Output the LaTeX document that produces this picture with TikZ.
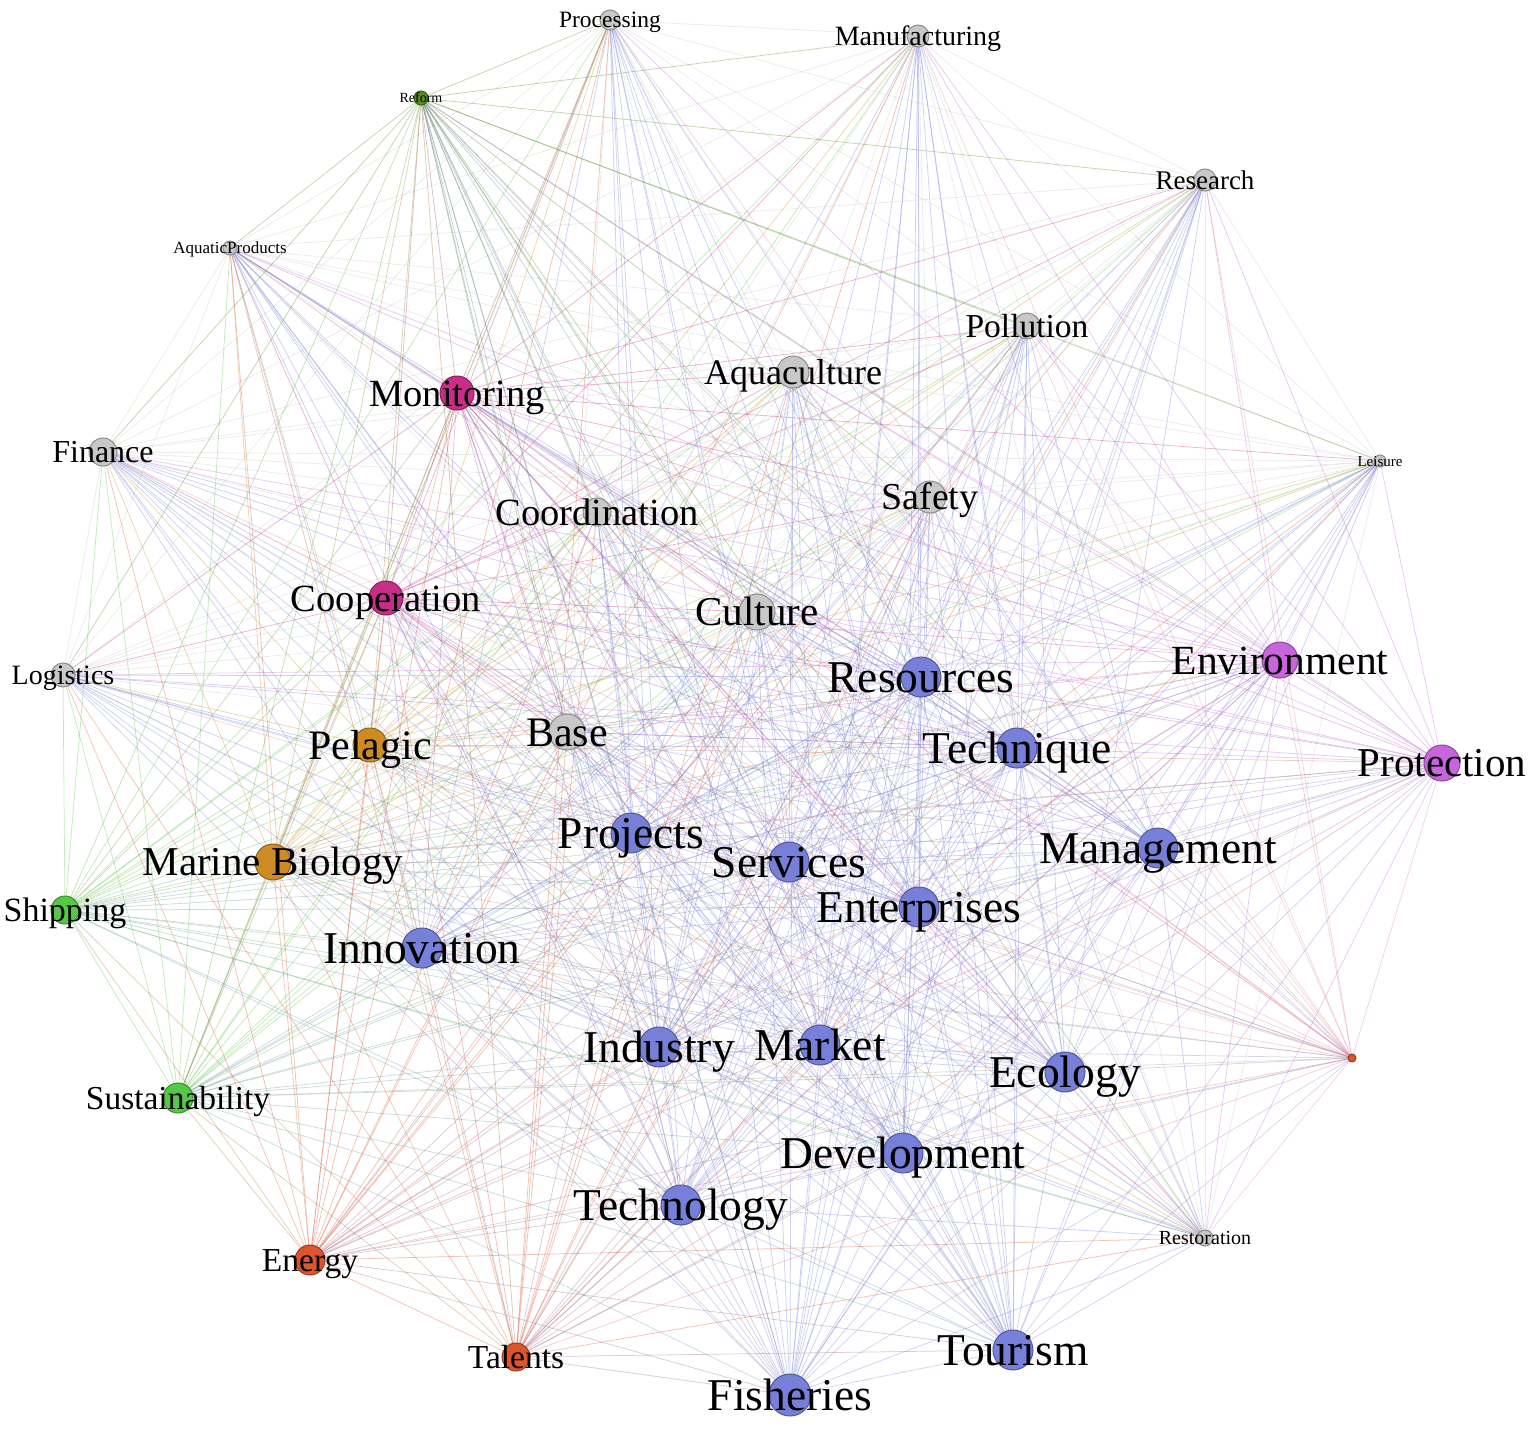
\documentclass[tikz,border=0pt]{standalone}
\usepackage{fontspec}
\setmainfont{Liberation Serif}
\pgfdeclarelayer{bg}\pgfdeclarelayer{fg}
\pgfsetlayers{bg,main,fg}
\definecolor{cgray}{RGB}{200,200,200}
\definecolor{cblue}{RGB}{118,128,216}
\definecolor{cmag}{RGB}{200,45,135}
\definecolor{cviol}{RGB}{200,100,220}
\definecolor{corange}{RGB}{205,140,35}
\definecolor{cgreen}{RGB}{85,200,70}
\definecolor{cdgreen}{RGB}{85,140,35}
\definecolor{cred}{RGB}{220,85,45}
\tikzset{
  gnode/.style={circle,inner sep=0pt,line width=1pt},
  edge/.style={line width=0.75pt,draw opacity=0.36},
  glabel/.style={inner sep=0pt,anchor=base,text=black}
}
\newcommand\gn[7]{%
  \colorlet{col#1}{#5}%
  \node[gnode,minimum size=#4*2pt,fill=#5,draw=#5!70!black] (#1) at (#2,#3) {};%
  \begin{pgfonlayer}{fg}\node[glabel,font=\fontsize{#6}{#6}\selectfont] (#1-l) at ([yshift=-#6*0.34pt]#1.center) {#7};\end{pgfonlayer}%
}
\begin{document}
\begin{tikzpicture}[x=1pt,y=-1pt]
\useasboundingbox (0,0) rectangle (1535,1430);
% gray nodes
\gn{processing}{610}{20}{10}{cgray}{23.5}{Processing}
\gn{manufacturing}{918}{36}{11}{cgray}{28}{Manufacturing}
\gn{research}{1205}{180}{11}{cgray}{27}{Research}
\gn{aquaticproducts}{230}{248}{7}{cgray}{17}{AquaticProducts}
\gn{pollution}{1027}{326}{13}{cgray}{33.5}{Pollution}
\gn{aquaculture}{793}{372}{16}{cgray}{36}{Aquaculture}
\gn{finance}{103}{452}{14}{cgray}{32}{Finance}
\gn{leisure}{1380}{461}{6}{cgray}{15}{Leisure}
\gn{safety}{930}{497}{16}{cgray}{38}{Safety}
\gn{coordination}{597}{512}{14}{cgray}{38.5}{Coordination}
\gn{culture}{757}{612}{18}{cgray}{41}{Culture}
\gn{logistics}{63}{675}{12}{cgray}{28}{Logistics}
\gn{base}{567}{732}{18}{cgray}{42}{Base}
\gn{restoration}{1205}{1238}{8}{cgray}{20}{Restoration}
% coloured communities
\gn{reform}{421}{98}{7}{cdgreen}{14}{Reform}
\gn{monitoring}{457}{393}{17}{cmag}{38.5}{Monitoring}
\gn{cooperation}{386}{598}{17}{cmag}{38.5}{Cooperation}
\gn{environment}{1280}{660}{18}{cviol}{41.5}{Environment}
\gn{protection}{1442}{763}{18}{cviol}{41}{Protection}
\gn{pelagic}{370}{745}{17}{corange}{42}{Pelagic}
\gn{marinebiology}{273}{862}{18}{corange}{41}{Marine Biology}
\gn{shipping}{65}{910}{14}{cgreen}{34}{Shipping}
\gn{sustainability}{178}{1098}{15}{cgreen}{33.5}{Sustainability}
\gn{energy}{310}{1260}{15}{cred}{33.5}{Energy}
\gn{talents}{516}{1357}{14}{cred}{33.5}{Talents}
\colorlet{colredpt}{cred!45!cmag!60!white}
\node[gnode,minimum size=8pt,fill=cred,draw=cred!70!black] (redpt) at (1352,1058) {};
\gn{resources}{921}{677}{20}{cblue}{45.5}{Resources}
\gn{technique}{1017}{748}{20}{cblue}{45.5}{Technique}
\gn{projects}{631}{833}{20}{cblue}{45.5}{Projects}
\gn{management}{1158}{848}{20}{cblue}{45.5}{Management}
\gn{services}{789}{862}{20}{cblue}{45.5}{Services}
\gn{enterprises}{919}{907}{20}{cblue}{45.5}{Enterprises}
\gn{innovation}{422}{948}{20}{cblue}{45.5}{Innovation}
\gn{industry}{659}{1047}{20}{cblue}{45.5}{Industry}
\gn{market}{820}{1045}{20}{cblue}{45.5}{Market}
\gn{ecology}{1065}{1072}{20}{cblue}{45.5}{Ecology}
\gn{development}{903}{1153}{20}{cblue}{45.5}{Development}
\gn{technology}{681}{1205}{20}{cblue}{45.5}{Technology}
\gn{tourism}{1013}{1350}{20}{cblue}{45.5}{Tourism}
\gn{fisheries}{790}{1395}{21}{cblue}{45.5}{Fisheries}
% edges
\def\allnodes{processing,manufacturing,research,aquaticproducts,pollution,aquaculture,finance,leisure,safety,coordination,culture,logistics,base,restoration,reform,monitoring,cooperation,environment,protection,pelagic,marinebiology,shipping,sustainability,energy,talents,redpt,resources,technique,projects,management,services,enterprises,innovation,industry,market,ecology,development,technology,tourism,fisheries}
\begin{pgfonlayer}{bg}
\foreach \a [count=\i] in \allnodes {
  \foreach \b [count=\j] in \allnodes {
    \ifnum\j>\i
      \pgfmathtruncatemacro\r{mod(\i*7+\j*11,9)}
      \ifnum\r>0
        \ifnum\i>14 \def\ec{col\a!40!col\b}\else\def\ec{col\b}\fi
        \draw[edge,draw=\ec] (\a.center) -- (\b.center);
      \fi
    \fi
  }
}
\end{pgfonlayer}
\end{tikzpicture}
\end{document}
